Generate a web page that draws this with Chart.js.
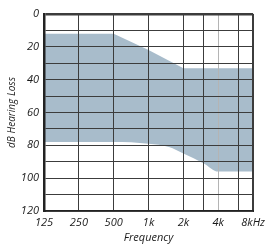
<!DOCTYPE html>
<html lang="en">
<head>
    <meta charset="UTF-8">
    <title>Audiogram</title>
    <script src="https://cdn.jsdelivr.net/npm/chart.js"></script>
    <style>
        html, body { margin: 0; padding: 0; background: #fff; }
        #wrap { width: 270px; height: 248px; }
    </style>
</head>
<body>
    <div id="wrap"><canvas id="audiogram" width="270" height="248"></canvas></div>

    <script>
        // frequencies that get a grid line, and their labels
        var gridFreqs = [125, 250, 500, 1000, 2000, 3000, 4000, 6000, 8000];
        var gridLabels = ['125', '250', '500', '1k', '2k', '', '4k', '', '8kHz'];

        // upper edge of the shaded band
        var upperFreqs = [125, 250, 500, 1000, 2000, 4000, 8000];
        var upperLoss = [12, 12, 12, 22, 33, 33, 33];

        // lower edge of the shaded band
        var lowerFreqs = [125, 250, 500, 1000, 1500, 2000, 3000, 4000, 8000];
        var lowerLoss = [78, 78, 78, 79, 81, 85, 91, 96, 96];

        var bandColor = '#a8bccb';
        var lineColor = '#3c3c3c';
        var textColor = '#1a1a1a';

        function toPoints(xs, ys) {
            return xs.map(function (x, i) { return { x: x, y: ys[i] }; });
        }

        var ctx = document.getElementById('audiogram').getContext('2d');

        new Chart(ctx, {
            type: 'line',
            data: {
                datasets: [{
                    data: toPoints(upperFreqs, upperLoss),
                    borderWidth: 0,
                    pointRadius: 0,
                    backgroundColor: bandColor,
                    fill: '+1'
                }, {
                    data: toPoints(lowerFreqs, lowerLoss),
                    borderWidth: 0,
                    pointRadius: 0,
                    cubicInterpolationMode: 'monotone',
                    fill: false
                }]
            },
            options: {
                responsive: false,
                animation: false,
                layout: { padding: { left: 0, right: 16, top: 14, bottom: 0 } },
                plugins: {
                    legend: { display: false },
                    tooltip: { enabled: false }
                },
                scales: {
                    x: {
                        type: 'logarithmic',
                        min: 125,
                        max: 8000,
                        afterBuildTicks: function (scale) {
                            scale.ticks = gridFreqs.map(function (v) { return { value: v }; });
                        },
                        afterFit: function (scale) { scale.height = 37; },
                        ticks: {
                            autoSkip: false,
                            maxRotation: 0,
                            padding: 5,
                            color: textColor,
                            font: { family: 'Open Sans', size: 11, style: 'italic' },
                            callback: function (value) {
                                var i = gridFreqs.indexOf(value);
                                return i >= 0 ? gridLabels[i] : '';
                            }
                        },
                        grid: {
                            z: 1,
                            drawTicks: false,
                            color: function (c) {
                                return c.tick && c.tick.value === 4000 ? '#b4b4b4' : lineColor;
                            },
                            lineWidth: function (c) {
                                return c.tick && c.tick.value === 8000 ? 2 : 1;
                            }
                        },
                        border: { z: 1, display: true, color: '#222', width: 2 },
                        title: {
                            display: true,
                            text: 'Frequency',
                            color: textColor,
                            padding: { top: 0, bottom: 4 },
                            font: { family: 'Open Sans', size: 11, style: 'italic' }
                        }
                    },
                    y: {
                        reverse: true,
                        min: 0,
                        max: 120,
                        afterFit: function (scale) { scale.width = 44; },
                        ticks: {
                            stepSize: 10,
                            padding: 5,
                            color: textColor,
                            font: { family: 'Open Sans', size: 11, style: 'italic' },
                            callback: function (value) {
                                return value % 20 === 0 ? value : '';
                            }
                        },
                        grid: {
                            z: 1,
                            drawTicks: false,
                            color: lineColor,
                            lineWidth: function (c) {
                                return c.tick && c.tick.value === 0 ? 2.5 : 1;
                            }
                        },
                        border: { z: 1, display: true, color: '#222', width: 2.5 },
                        title: {
                            display: true,
                            text: 'dB Hearing Loss',
                            color: textColor,
                            padding: { top: 6, bottom: 0 },
                            font: { family: 'Open Sans', size: 10, style: 'italic' }
                        }
                    }
                }
            }
        });
    </script>
</body>
</html>
